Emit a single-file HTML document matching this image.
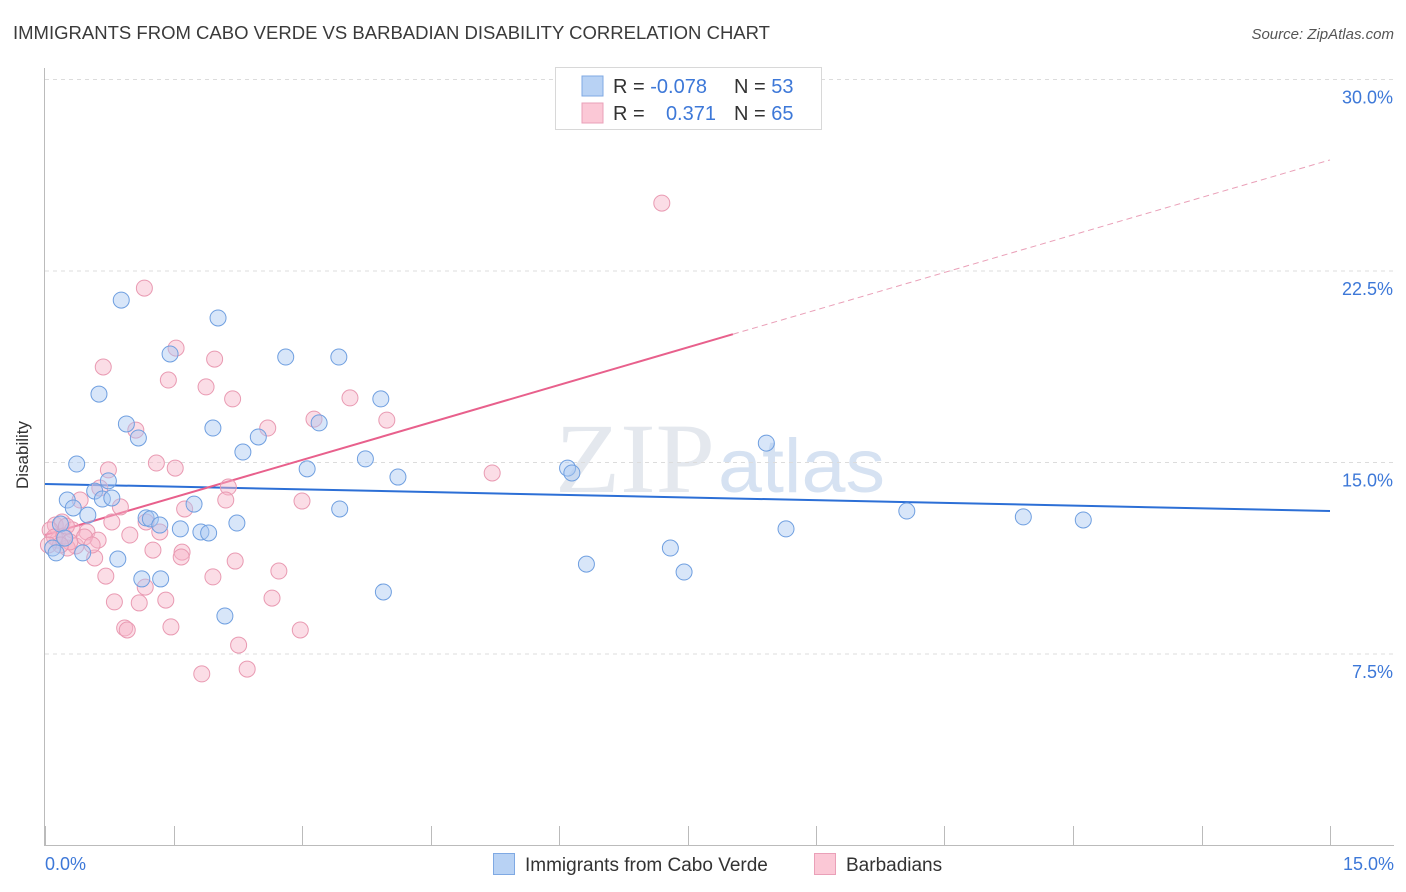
<!DOCTYPE html>
<html><head><meta charset="utf-8"><style>
body{margin:0;background:#fff;font-family:"Liberation Sans",sans-serif;}
svg{display:block}
</style></head><body>
<svg width="1406" height="892" id="chart" font-family="Liberation Sans, sans-serif">
<text x="13" y="39" font-size="18" fill="#3a3a3a" textLength="757" lengthAdjust="spacingAndGlyphs">IMMIGRANTS FROM CABO VERDE VS BARBADIAN DISABILITY CORRELATION CHART</text>
<text x="1394" y="39" font-size="15" fill="#555" font-style="italic" text-anchor="end">Source: ZipAtlas.com</text>
<text x="28" y="455" font-size="17" fill="#333" text-anchor="middle" transform="rotate(-90 28 455)">Disability</text>
<text x="555" y="492" font-size="100" fill="#e4e8ee" font-family="Liberation Serif, serif" textLength="160" lengthAdjust="spacingAndGlyphs">ZIP</text>
<text x="718" y="492" font-size="76" fill="#d6e2f2" textLength="167" lengthAdjust="spacingAndGlyphs">atlas</text>
<g id="grid"></g>
<g id="axes"></g>
<g id="lines"></g>
<g id="pts"></g>
<g>
<rect x="555.5" y="67.5" width="266" height="62" fill="#fff" stroke="#d8d8d8"/>
<rect x="582" y="76" width="21" height="20" fill="#b8d2f4" stroke="#7fa9e3"/>
<rect x="582" y="103" width="21" height="20" fill="#fbc8d6" stroke="#eaa0b8"/>
<text x="613" y="93" font-size="20" fill="#333">R = <tspan fill="#3d78d8">-0.078</tspan></text>
<text x="734" y="93" font-size="20" fill="#333">N = <tspan fill="#3d78d8">53</tspan></text>
<text x="613" y="120" font-size="20" fill="#333">R = </text>
<text x="716" y="120" font-size="20" fill="#3d78d8" text-anchor="end">0.371</text>
<text x="734" y="120" font-size="20" fill="#333">N = <tspan fill="#3d78d8">65</tspan></text>
</g>
<g>
<rect x="493.5" y="853.5" width="21" height="21" fill="#b8d2f4" stroke="#7fa9e3"/>
<text x="525" y="871" font-size="19" fill="#333">Immigrants from Cabo Verde</text>
<rect x="814.5" y="853.5" width="21" height="21" fill="#fbc8d6" stroke="#eaa0b8"/>
<text x="846" y="871" font-size="19" fill="#333">Barbadians</text>
</g>
</svg>
<script>
const yTicks=[7.5,15,22.5,30];
const yTickLabels=["7.5%","15.0%","22.5%","30.0%"];
const xTickLabels=["0.0%","15.0%"];
const blueX=[0.89,2.02,1.46,2.81,3.43,0.63,3.92,0.95,3.20,1.09,1.96,2.49,2.31,0.37,3.06,3.74,4.12,6.10,6.15,8.42,0.74,0.26,0.58,0.67,0.78,0.33,0.50,1.74,3.44,1.18,1.23,1.34,1.58,2.24,1.82,1.91,10.06,11.42,12.12,8.65,0.09,0.13,0.44,0.85,7.30,6.32,7.46,1.13,1.35,3.95,2.10,0.18,0.23];
const blueY=[21.36,20.66,19.25,19.13,19.13,17.68,17.49,16.51,16.55,15.96,16.35,16.00,15.41,14.94,14.75,15.14,14.43,14.78,14.59,15.76,14.28,13.53,13.88,13.57,13.61,13.22,12.94,13.37,13.18,12.83,12.79,12.55,12.40,12.63,12.28,12.24,13.10,12.87,12.75,12.40,11.65,11.46,11.46,11.22,11.65,11.02,10.71,10.44,10.44,9.93,8.99,12.59,12.04];
const pinkX=[7.20,1.16,1.53,0.68,1.98,1.44,1.88,2.19,3.56,3.14,3.99,1.06,2.60,1.30,0.74,1.52,5.22,2.14,0.64,0.41,0.88,3.00,1.63,2.11,0.12,0.20,0.32,0.49,0.78,1.18,1.34,0.99,0.62,0.36,0.15,0.26,0.46,1.26,1.60,1.59,0.58,2.22,2.73,0.71,1.96,1.17,0.81,1.10,1.41,2.65,0.93,0.96,1.47,2.98,2.26,2.36,1.83,0.06,0.11,0.55,0.22,0.29,0.18,0.04,0.25];
const pinkY=[25.16,21.83,19.48,18.74,19.05,18.23,17.96,17.49,17.53,16.70,16.66,16.27,16.35,14.98,14.71,14.78,14.59,14.04,14.00,13.53,13.26,13.49,13.18,13.53,12.55,12.67,12.36,12.28,12.67,12.67,12.28,12.16,11.96,11.73,11.96,11.65,12.08,11.57,11.49,11.30,11.26,11.14,10.75,10.55,10.52,10.12,9.54,9.50,9.61,9.69,8.52,8.44,8.56,8.44,7.85,6.91,6.72,12.36,12.08,11.77,12.12,11.89,11.77,11.77,12.51];
const blueTrend=[14.16,13.10];
const pinkTrend=[12.16,26.85];
const pinkSolidEnd=8.03;
const NS="http://www.w3.org/2000/svg";
const X0=45,X1=1330,Y0=845.5,YPER=191.5/7.5;
const sx=v=>X0+(v/15)*(X1-X0);
const sy=v=>Y0-v*YPER;
function mk(tag,attrs,parent){const e=document.createElementNS(NS,tag);for(const k in attrs)e.setAttribute(k,attrs[k]);parent.appendChild(e);return e;}
const grid=document.getElementById('grid'),axes=document.getElementById('axes'),lines=document.getElementById('lines'),pts=document.getElementById('pts');
yTicks.forEach((t,i)=>{
 const l=mk('line',{x1:45,x2:1394,y1:sy(t),y2:sy(t),stroke:'#dcdcdc','stroke-dasharray':'4,4'},grid);
 
 
 const tx=mk('text',{x:1393,y:sy(t)+24,'font-size':18,fill:'#3d78d8','text-anchor':'end'},axes);
 tx.textContent=yTickLabels[i];
 
 
});
const ya=mk('line',{x1:44.5,x2:44.5,y1:68,y2:846,stroke:'#bbb'},axes);


const xa=mk('line',{x1:44,x2:1394,y1:845.5,y2:845.5,stroke:'#bbb'},axes);


for(let i=0;i<=10;i++){
 const x=Math.round(sx(i*1.5))+0.5;
 const tk=mk('line',{x1:x,x2:x,y1:826,y2:846,stroke:'#bbb'},axes);
 
 
}
const xl0=mk('text',{x:45,y:870,'font-size':18,fill:'#3d78d8'},axes);
xl0.textContent=xTickLabels[0];


const xl1=mk('text',{x:1394,y:870,'font-size':18,fill:'#3d78d8','text-anchor':'end'},axes);
xl1.textContent=xTickLabels[1];


function dot(x,y,fill,stroke,name){
 const c=mk('circle',{cx:sx(x),cy:sy(y),r:8,fill:fill,'fill-opacity':0.45,stroke:stroke,'stroke-width':1},pts);
 
 
}
pinkX.forEach((x,i)=>dot(x,pinkY[i],'#f7b3c7','#e99ab2','barbadians-point'));
blueX.forEach((x,i)=>dot(x,blueY[i],'#a9c8f2','#6f9fe0','cabo-verde-point'));
const bl=mk('line',{x1:sx(0),y1:sy(blueTrend[0]),x2:sx(15),y2:sy(blueTrend[1]),stroke:'#2c6fd6','stroke-width':2},lines);


const pAt=v=>pinkTrend[0]+(pinkTrend[1]-pinkTrend[0])*v/15;
const pl=mk('line',{x1:sx(0),y1:sy(pinkTrend[0]),x2:sx(pinkSolidEnd),y2:sy(pAt(pinkSolidEnd)),stroke:'#e8608c','stroke-width':2},lines);


const pd=mk('line',{x1:sx(pinkSolidEnd),y1:sy(pAt(pinkSolidEnd)),x2:sx(15),y2:sy(pinkTrend[1]),stroke:'#eaa0b8','stroke-width':1,'stroke-dasharray':'6,4'},lines);


</script>
</body></html>
